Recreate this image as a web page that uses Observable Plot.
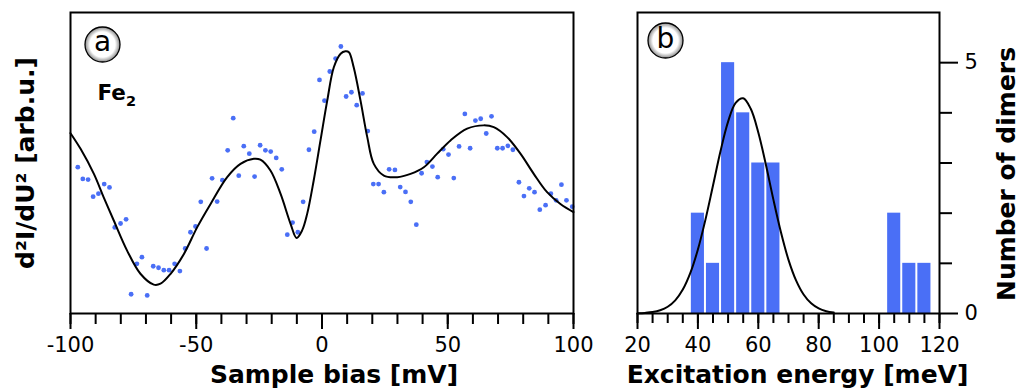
<!DOCTYPE html>
<html>
<head>
<meta charset="utf-8">
<script src="https://cdn.jsdelivr.net/npm/d3@7"></script>
<script src="https://cdn.jsdelivr.net/npm/@observablehq/plot@0.6"></script>
<style>
  html, body { margin: 0; padding: 0; background: white; }
  #wrap { position: relative; width: 1019px; height: 392px; display: flex; }
  svg { display: block; }
</style>
</head>
<body>
<div id="wrap"></div>
<script>
// ---- Panel (a): measured d2I/dU2 spectrum (arbitrary units) ----
const biasMV = [-97.1,-95.1,-93.0,-91.0,-88.9,-86.6,-84.5,-82.4,-80.1,-77.9,-75.9,-73.6,-71.6,-69.5,-67.1,-65.0,-62.9,-60.8,-58.6,-56.5,-54.4,-52.3,-50.3,-48.2,-45.9,-43.7,-41.7,-39.6,-37.5,-35.3,-33.1,-31.1,-28.9,-26.8,-24.6,-22.5,-20.4,-18.2,-16.0,-13.8,-11.7,-9.6,-7.5,-5.2,-3.1,-1.0,1.0,3.1,5.4,7.5,9.6,11.7,13.8,16.1,18.2,20.4,22.5,24.6,26.7,29.0,31.1,33.2,35.3,37.5,39.6,41.7,43.9,46.0,48.2,50.3,52.4,54.5,56.8,58.9,61.0,63.1,65.3,67.4,69.7,71.8,73.9,75.9,78.3,80.3,82.4,84.5,86.6,88.9,91.0,93.1,95.2,97.2,99.5];
const signal = [48.6,44.7,44.5,38.8,39.8,43.0,41.9,28.6,29.9,31.3,6.4,16.5,18.7,6.0,15.7,15.2,14.4,14.4,16.5,14.1,21.6,27.0,28.9,37.1,21.6,44.9,37.2,44.3,54.2,64.9,45.8,55.6,53.1,45.5,55.9,54.2,53.8,51.7,47.9,26.2,30.2,27.0,37.1,54.4,60.4,77.6,70.7,80.4,84.7,88.7,72.1,73.5,69.2,73.1,60.6,43.0,43.0,40.3,47.9,47.7,42.0,40.4,37.1,29.5,46.6,50.3,48.8,45.3,54.6,52.8,45.0,55.5,66.3,54.9,64.1,64.7,59.8,65.5,54.9,54.9,55.7,54.4,43.6,39.0,41.6,40.3,34.5,36.0,39.8,37.6,42.8,37.6,35.5];
// fit curve
const fitBias = [-100,-96.0,-90.7,-86.8,-82.8,-77.5,-72.2,-66.9,-64.2,-60.2,-54.9,-49.6,-44.3,-37.7,-32.4,-27.1,-24.5,-20.5,-16.5,-12.5,-10.1,-7.9,-5.9,-3.3,-0.6,2.1,4.7,7.4,9.3,10.7,12.6,15.3,18.0,20.6,24.6,29.9,35.2,40.5,45.8,51.1,57.7,64.3,68.3,73.6,78.9,84.2,89.5,94.8,100];
const fitSignal = [59.9,54.7,46.4,38.6,30.9,20.9,13.2,9.6,9.9,13.2,19.8,28.7,36.4,45.3,49.7,51.4,51.1,47.5,39.8,29.8,25.1,27.6,33.1,44.2,57.5,70.8,81.8,86.3,87.1,86.8,81.8,70.8,58.6,49.7,45.8,45.3,46.4,48.6,53.1,57.5,61.4,62.5,61.9,58.6,53.1,46.4,40.3,36.4,33.7];

// ---- Panel (b): histogram of excitation energies ----
const energyBins = [40,45,50,55,60,65,105,110,115];
const dimerCounts = [2,1,5,4,3,3,2,1,1];
const gaussEnergy = [20,22.5,25,27.5,30,32.5,35,37.5,40,42.5,45,47.5,50,52.5,55,57.5,60,62.5,65,67.5,70,72.5,75,77.5,80,82.5,85];
const gaussCount = [0.004,0.012,0.028,0.064,0.134,0.262,0.477,0.809,1.276,1.871,2.552,3.24,3.825,4.20,4.29,4.08,3.61,2.97,2.27,1.62,1.07,0.661,0.379,0.202,0.100,0.046,0.020];

const xMajorA = [-100,-50,0,50,100];
const xMinorA = d3.range(-100,101,10);
const xMajorB = [20,40,60,80,100,120];
const xMinorB = d3.range(20,121,5);
const yMajorB = [0,5];
const yMinorB = [1,2,3,4];

const blue = "#4a6ff6";
const font = {fontFamily: "'DejaVu Sans', sans-serif", fontSize: "21px", color: "black", background: "white", overflow: "visible"};

const pts = biasMV.map((x,i) => ({x, y: signal[i]}));
const fit = fitBias.map((x,i) => ({x, y: fitSignal[i]}));
const bars = energyBins.map((c,i) => ({x1: c-2.5, x2: c+2.5, y: dimerCounts[i]}));
const gauss = gaussEnergy.map((x,i) => ({x, y: gaussCount[i]}));

const left = Plot.plot({
  width: 620, height: 392,
  marginLeft: 70, marginRight: 47, marginTop: 12, marginBottom: 79,
  style: font,
  x: {domain: [-100,100]},
  y: {domain: [0,100], axis: null},
  marks: [
    Plot.dot(pts, {x: "x", y: "y", r: 2.4, fill: blue, stroke: "none"}),
    Plot.line(fit, {x: "x", y: "y", curve: "catmull-rom", stroke: "black", strokeWidth: 2}),
    Plot.axisX({ticks: xMinorA, tickSize: 11, strokeWidth: 2, tickFormat: () => "", label: null}),
    Plot.axisX({ticks: xMajorA, tickSize: 16, strokeWidth: 2, tickPadding: 8, tickFormat: d => String(d), label: null}),
    Plot.frame({stroke: "black", strokeWidth: 2}),
    Plot.dot([0], {frameAnchor: "top-left", dx: 32, dy: 32, r: 17.5, fill: "url(#ringGrad)", stroke: "black", strokeWidth: 1.3}),
    Plot.text(["a"], {text: d => d, frameAnchor: "top-left", dx: 32, dy: 30, fontSize: 28, textAnchor: "middle", lineAnchor: "middle"}),
    Plot.text(["Fe"], {text: d => d, frameAnchor: "top-left", dx: 27, dy: 87.5, fontSize: 21.5, fontWeight: "bold", textAnchor: "start", lineAnchor: "bottom"}),
    Plot.text(["Sample bias [mV]"], {text: d => d, frameAnchor: "bottom", dx: 12, dy: 69, fontSize: 25, fontWeight: "bold", lineAnchor: "bottom"}),
    Plot.text(["d²I/dU² [arb.u.]"], {text: d => d, frameAnchor: "left", dx: -45, dy: 0, rotate: -90, fontSize: 25, fontWeight: "bold", textAnchor: "middle", lineAnchor: "middle"})
  ]
});

const right = Plot.plot({
  width: 399, height: 392,
  marginLeft: 17, marginRight: 80, marginTop: 12, marginBottom: 79,
  style: font,
  x: {domain: [20,120]},
  y: {domain: [0,6]},
  marks: [
    Plot.rectY(bars, {x1: "x1", x2: "x2", y: "y", fill: blue, insetLeft: 1, insetRight: 1}),
    Plot.line(gauss, {x: "x", y: "y", curve: "catmull-rom", stroke: "black", strokeWidth: 2}),
    Plot.axisX({ticks: xMinorB, tickSize: 10, strokeWidth: 2, tickFormat: () => "", label: null}),
    Plot.axisX({ticks: xMajorB, tickSize: 16, strokeWidth: 2, tickPadding: 8, tickFormat: d => String(d), label: null}),
    Plot.axisY({anchor: "right", ticks: yMinorB, tickSize: 12, strokeWidth: 2, tickFormat: () => "", label: null}),
    Plot.axisY({anchor: "right", ticks: yMajorB, tickSize: 18, strokeWidth: 2, tickPadding: 7, tickFormat: d => String(d), label: null}),
    Plot.frame({stroke: "black", strokeWidth: 2}),
    Plot.dot([0], {frameAnchor: "top-left", dx: 28, dy: 28, r: 17.5, fill: "url(#ringGrad)", stroke: "black", strokeWidth: 1.3}),
    Plot.text(["b"], {text: d => d, frameAnchor: "top-left", dx: 28, dy: 27, fontSize: 28, textAnchor: "middle", lineAnchor: "middle"}),
    Plot.text(["Excitation energy [meV]"], {text: d => d, frameAnchor: "bottom", dx: 9, dy: 69, fontSize: 25, fontWeight: "bold", lineAnchor: "bottom"}),
    Plot.text(["Number of dimers"], {text: d => d, frameAnchor: "right", dx: 67, dy: 11, rotate: -90, fontSize: 25, fontWeight: "bold", textAnchor: "middle", lineAnchor: "middle"})
  ]
});

const wrap = document.getElementById("wrap");
wrap.appendChild(left);
wrap.appendChild(right);

// subscript for Fe2
d3.select(left).selectAll("text").filter(function() { return this.textContent === "Fe"; })
  .append("tspan").attr("dy", 6).attr("font-size", 14.5).text("2");

// radial gradient for the circled panel letters
const defs = d3.select(left).insert("defs", ":first-child");
const g = defs.append("radialGradient").attr("id", "ringGrad");
g.append("stop").attr("offset", "0%").attr("stop-color", "#ffffff");
g.append("stop").attr("offset", "72%").attr("stop-color", "#ffffff");
g.append("stop").attr("offset", "100%").attr("stop-color", "#8a8a8a");
</script>
</body>
</html>
